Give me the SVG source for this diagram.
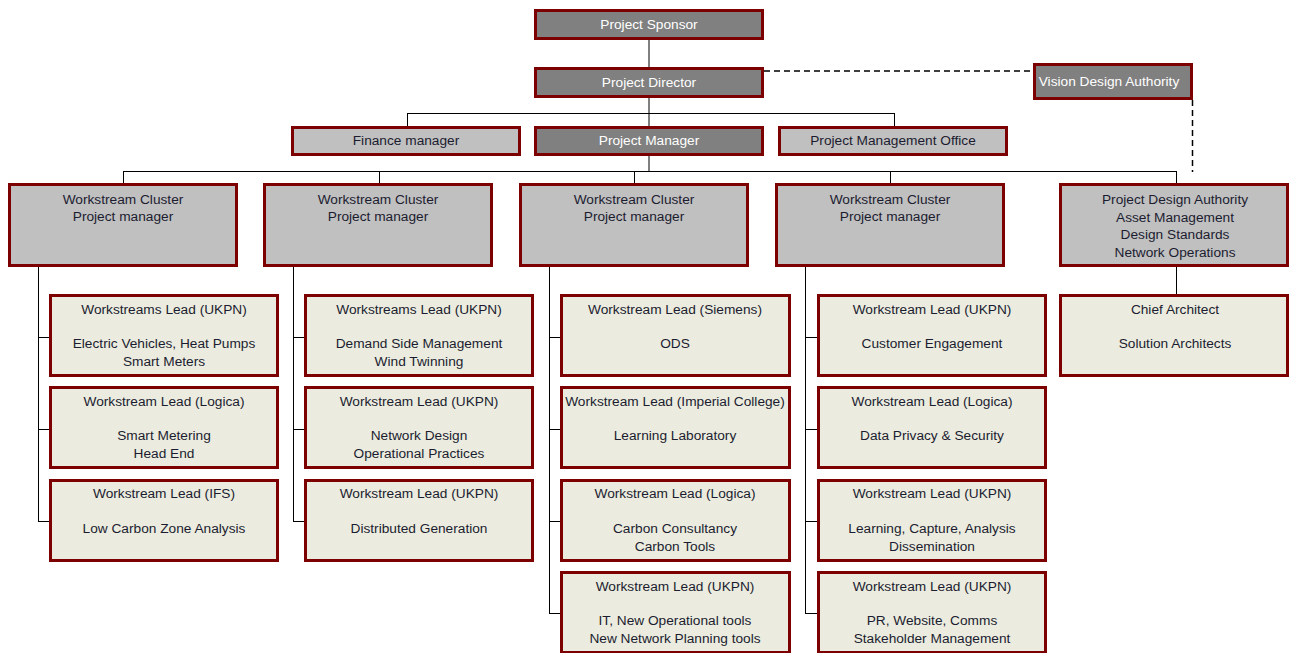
<svg xmlns="http://www.w3.org/2000/svg" width="1290" height="653" viewBox="0 0 1290 653">
<style>
.dk,.lg,.bg{stroke:#7d0000;stroke-width:3}
.dk{fill:#808080}
.lg{fill:#c0c0c0}
.bg{fill:#ebecdf}
text{font-family:"Liberation Sans",Arial,sans-serif;font-size:13.7px;text-anchor:middle;fill:#1c1c30}
.w{fill:#ffffff}
.c line{stroke:#000;stroke-width:1}
.c .d{stroke-dasharray:6,4;stroke-width:1.5}
</style>
<rect x="0" y="0" width="1290" height="653" fill="#fff"/>
<g class="c" id="connectors">
<line x1="649" y1="40" x2="649" y2="67"/>
<line x1="649" y1="98" x2="649" y2="126"/>
<line x1="407" y1="113.5" x2="894" y2="113.5" stroke="#555"/>
<line x1="407.5" y1="113" x2="407.5" y2="126"/>
<line x1="894.5" y1="113" x2="894.5" y2="126"/>
<line x1="649" y1="156" x2="649" y2="172"/>
<line x1="123.5" y1="171.5" x2="1176.5" y2="171.5"/>
<line x1="123.5" y1="171" x2="123.5" y2="184"/>
<line x1="379.5" y1="171" x2="379.5" y2="184"/>
<line x1="634.5" y1="171" x2="634.5" y2="184"/>
<line x1="890.5" y1="171" x2="890.5" y2="184"/>
<line x1="1176.5" y1="171" x2="1176.5" y2="184"/>
<line class="d" x1="764" y1="71" x2="1033" y2="71"/>
<line class="d" x1="1192.5" y1="100" x2="1192.5" y2="172"/>
<line x1="1176.5" y1="266" x2="1176.5" y2="295"/>
<line x1="38.5" y1="266" x2="38.5" y2="521.5"/>
<line x1="38" y1="337.5" x2="50" y2="337.5"/>
<line x1="38" y1="429.5" x2="50" y2="429.5"/>
<line x1="38" y1="521.5" x2="50" y2="521.5"/>
<line x1="293.5" y1="266" x2="293.5" y2="521.5"/>
<line x1="293" y1="337.5" x2="305" y2="337.5"/>
<line x1="293" y1="429.5" x2="305" y2="429.5"/>
<line x1="293" y1="521.5" x2="305" y2="521.5"/>
<line x1="549.5" y1="266" x2="549.5" y2="613.5"/>
<line x1="549" y1="337.5" x2="561" y2="337.5"/>
<line x1="549" y1="429.5" x2="561" y2="429.5"/>
<line x1="549" y1="521.5" x2="561" y2="521.5"/>
<line x1="549" y1="613.5" x2="561" y2="613.5"/>
<line x1="805.5" y1="266" x2="805.5" y2="613.5"/>
<line x1="805" y1="337.5" x2="818" y2="337.5"/>
<line x1="805" y1="429.5" x2="818" y2="429.5"/>
<line x1="805" y1="521.5" x2="818" y2="521.5"/>
<line x1="805" y1="613.5" x2="818" y2="613.5"/>
</g>
<g id="sponsor"><rect class="dk" x="535.5" y="10.5" width="227" height="28"/><text class="w" x="649" y="29">Project Sponsor</text></g>
<g id="director"><rect class="dk" x="535.5" y="68.5" width="227" height="28"/><text class="w" x="649" y="87">Project Director</text></g>
<g id="vda"><rect class="dk" x="1034.5" y="64.5" width="157" height="34"/><text class="w" x="1109" y="86">Vision Design Authority</text></g>
<g id="finance"><rect class="lg" x="292.5" y="127.5" width="227" height="27"/><text x="406" y="145">Finance manager</text></g>
<g id="pm"><rect class="dk" x="535.5" y="127.5" width="227" height="27"/><text class="w" x="649" y="145">Project Manager</text></g>
<g id="pmo"><rect class="lg" x="779.5" y="127.5" width="227" height="27"/><text x="893" y="145">Project Management Office</text></g>
<g id="cluster1"><rect class="lg" x="9.5" y="184.5" width="227" height="81"/><text x="123" y="204">Workstream Cluster</text><text x="123" y="221">Project manager</text></g>
<g id="cluster2"><rect class="lg" x="264.5" y="184.5" width="227" height="81"/><text x="378" y="204">Workstream Cluster</text><text x="378" y="221">Project manager</text></g>
<g id="cluster3"><rect class="lg" x="520.5" y="184.5" width="227" height="81"/><text x="634" y="204">Workstream Cluster</text><text x="634" y="221">Project manager</text></g>
<g id="cluster4"><rect class="lg" x="776.5" y="184.5" width="227" height="81"/><text x="890" y="204">Workstream Cluster</text><text x="890" y="221">Project manager</text></g>
<g id="pda"><rect class="lg" x="1060.5" y="184.5" width="227" height="81"/><text x="1175" y="204">Project Design Authority</text><text x="1175" y="221.5">Asset Management</text><text x="1175" y="239">Design Standards</text><text x="1175" y="256.5">Network Operations</text></g>
<g id="c1r1"><rect class="bg" x="50.5" y="295.5" width="227" height="80"/><text x="164" y="314">Workstreams Lead (UKPN)</text><text x="164" y="348">Electric Vehicles, Heat Pumps</text><text x="164" y="366">Smart Meters</text></g>
<g id="c1r2"><rect class="bg" x="50.5" y="387.5" width="227" height="80"/><text x="164" y="406">Workstream Lead (Logica)</text><text x="164" y="440">Smart Metering</text><text x="164" y="458">Head End</text></g>
<g id="c1r3"><rect class="bg" x="50.5" y="480.5" width="227" height="80"/><text x="164" y="498">Workstream Lead (IFS)</text><text x="164" y="533">Low Carbon Zone Analysis</text></g>
<g id="c2r1"><rect class="bg" x="305.5" y="295.5" width="227" height="80"/><text x="419" y="314">Workstreams Lead (UKPN)</text><text x="419" y="348">Demand Side Management</text><text x="419" y="366">Wind Twinning</text></g>
<g id="c2r2"><rect class="bg" x="305.5" y="387.5" width="227" height="80"/><text x="419" y="406">Workstream Lead (UKPN)</text><text x="419" y="440">Network Design</text><text x="419" y="458">Operational Practices</text></g>
<g id="c2r3"><rect class="bg" x="305.5" y="480.5" width="227" height="80"/><text x="419" y="498">Workstream Lead (UKPN)</text><text x="419" y="533">Distributed Generation</text></g>
<g id="c3r1"><rect class="bg" x="561.5" y="295.5" width="228" height="80"/><text x="675" y="314">Workstream Lead (Siemens)</text><text x="675" y="348">ODS</text></g>
<g id="c3r2"><rect class="bg" x="561.5" y="387.5" width="228" height="80"/><text x="675" y="406">Workstream Lead (Imperial College)</text><text x="675" y="440">Learning Laboratory</text></g>
<g id="c3r3"><rect class="bg" x="561.5" y="480.5" width="228" height="80"/><text x="675" y="498">Workstream Lead (Logica)</text><text x="675" y="533">Carbon Consultancy</text><text x="675" y="551">Carbon Tools</text></g>
<g id="c3r4"><rect class="bg" x="561.5" y="572.5" width="228" height="80"/><text x="675" y="591">Workstream Lead (UKPN)</text><text x="675" y="625">IT, New Operational tools</text><text x="675" y="643">New Network Planning tools</text></g>
<g id="c4r1"><rect class="bg" x="818.5" y="295.5" width="227" height="80"/><text x="932" y="314">Workstream Lead (UKPN)</text><text x="932" y="348">Customer Engagement</text></g>
<g id="c4r2"><rect class="bg" x="818.5" y="387.5" width="227" height="80"/><text x="932" y="406">Workstream Lead (Logica)</text><text x="932" y="440">Data Privacy &amp; Security</text></g>
<g id="c4r3"><rect class="bg" x="818.5" y="480.5" width="227" height="80"/><text x="932" y="498">Workstream Lead (UKPN)</text><text x="932" y="533">Learning, Capture, Analysis</text><text x="932" y="551">Dissemination</text></g>
<g id="c4r4"><rect class="bg" x="818.5" y="572.5" width="227" height="80"/><text x="932" y="591">Workstream Lead (UKPN)</text><text x="932" y="625">PR, Website, Comms</text><text x="932" y="643">Stakeholder Management</text></g>
<g id="chief"><rect class="bg" x="1060.5" y="295.5" width="227" height="80"/><text x="1175" y="314">Chief Architect</text><text x="1175" y="348">Solution Architects</text></g>
</svg>
